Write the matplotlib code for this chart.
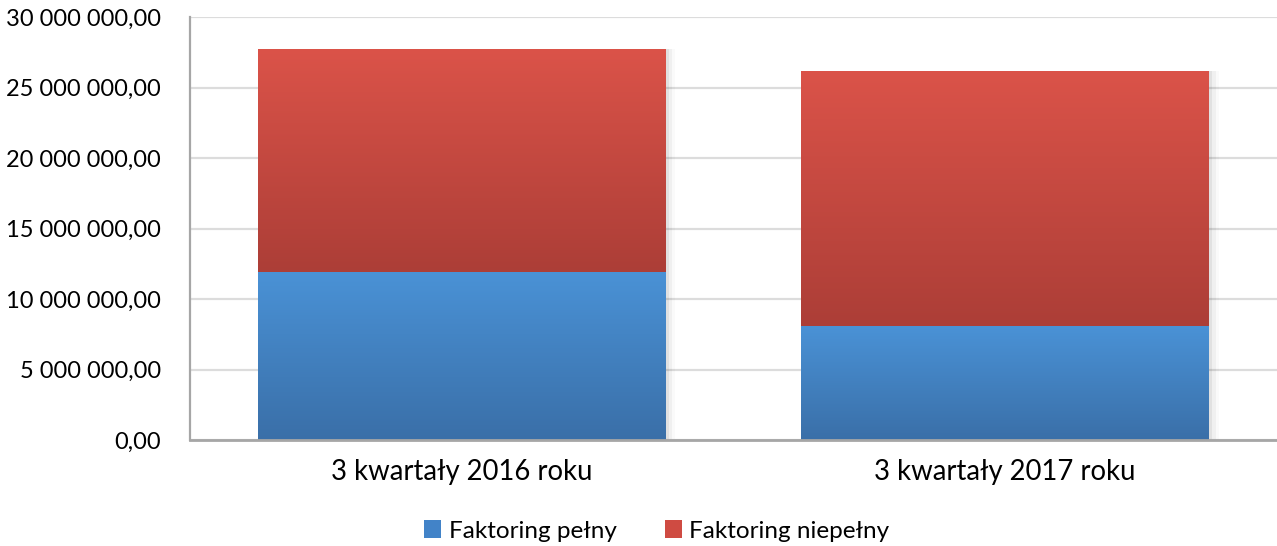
import matplotlib
matplotlib.use("Agg")
import matplotlib.pyplot as plt
import numpy as np
from matplotlib.colors import LinearSegmentedColormap
from matplotlib.patches import Patch

categories = ["3 kwartały 2016 roku", "3 kwartały 2017 roku"]
faktoring_pelny = [11950000, 8050000]
faktoring_niepelny = [15750000, 18100000]
series_names = ["Faktoring pełny", "Faktoring niepełny"]
yticks = [0, 5e6, 10e6, 15e6, 20e6, 25e6, 30e6]

plt.rcParams['font.family'] = ['Lato', 'DejaVu Sans']

fig = plt.figure(figsize=(12.77, 5.46), dpi=100)
ax = fig.add_axes([190/1277, 1-440/546, 1-190/1277, (440-17)/546])

x = np.arange(len(categories))
width = 0.75

blue_top, blue_bot = "#4A92D6", "#3A6FA8"
red_top, red_bot = "#DB5349", "#AC3E37"

def grad_bars(bottoms, heights, ctop, cbot, zorder):
    cmap = LinearSegmentedColormap.from_list("g", [cbot, ctop])
    bars = ax.bar(x, heights, width, bottom=bottoms, color=ctop, zorder=zorder, linewidth=0)
    for b in bars:
        x0, y0 = b.get_x(), b.get_y()
        w, h = b.get_width(), b.get_height()
        grad = np.linspace(0, 1, 256).reshape(-1, 1)
        im = ax.imshow(grad, cmap=cmap, aspect='auto', origin='lower',
                       extent=[x0, x0 + w, y0, y0 + h], zorder=zorder + 0.1,
                       interpolation='bicubic')
        im.set_clip_path(b)
    return bars

# soft shadow
for xi, tot in zip(x, np.array(faktoring_pelny) + np.array(faktoring_niepelny)):
    for k, a in enumerate([0.06, 0.04, 0.02]):
        ax.bar(xi + 0.004 * (k + 1), tot, width + 0.004 * (k + 1), bottom=-0.0,
               color="black", alpha=a, zorder=1.5, linewidth=0)

grad_bars([0, 0], faktoring_pelny, blue_top, blue_bot, 2)
grad_bars(faktoring_pelny, faktoring_niepelny, red_top, red_bot, 2)

ax.set_xlim(-0.5, 1.5)
ax.set_ylim(0, 30e6)
ax.set_yticks(yticks)

def fmt(v):
    s = f"{int(v):,}".replace(",", " ")
    return s + ",00"
ax.set_yticklabels([fmt(v) for v in yticks])
ax.set_xticks(x)
ax.set_xticklabels(categories)
ax.tick_params(axis='both', length=0, colors="#000000")
ax.tick_params(axis='y', labelsize=17, pad=21)
ax.tick_params(axis='x', labelsize=19.8, pad=14)

ax.grid(axis='y', color="#DCDCDC", linewidth=1.6, zorder=0)
ax.set_axisbelow(True)
for s in ['top', 'right']:
    ax.spines[s].set_visible(False)
ax.spines['left'].set_color("#A6A6A6")
ax.spines['left'].set_linewidth(1.6)
ax.spines['bottom'].set_color("#A6A6A6")
ax.spines['bottom'].set_linewidth(2)
ax.spines['bottom'].set_zorder(5)

handles = [Patch(facecolor="#4283C8", edgecolor="none"),
           Patch(facecolor="#CF4B42", edgecolor="none")]
fig.legend(handles, series_names, loc='center', bbox_to_anchor=(657/1277, 1-531/546),
           ncol=2, frameon=False, fontsize=17.5, handlelength=0.7, handleheight=0.7,
           handletextpad=0.3, columnspacing=2.0, borderaxespad=0)

fig.savefig("out.png", dpi=100)
